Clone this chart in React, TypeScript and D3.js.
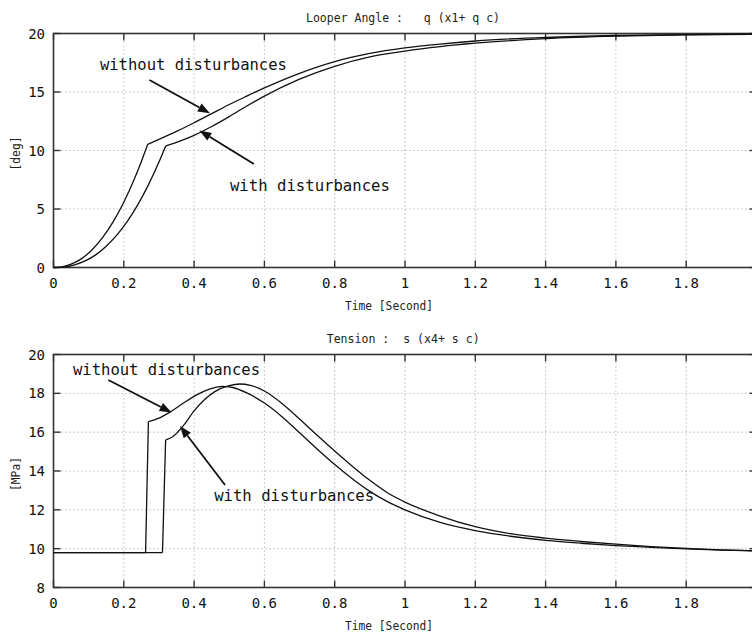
import React from 'react'
import * as d3 from 'd3'

// Looper angle [deg], without / with disturbances
const angleTimeNoDist = [0, 0.02, 0.05, 0.08, 0.11, 0.14, 0.17, 0.2, 0.23, 0.25, 0.268, 0.3, 0.35, 0.4, 0.45, 0.5, 0.55, 0.6, 0.7, 0.8, 0.9, 1.0, 1.1, 1.2, 1.4, 1.6, 1.8, 2.0]
const angleNoDist = [0, 0.04, 0.28, 0.76, 1.52, 2.57, 3.92, 5.58, 7.56, 9.06, 10.53, 10.95, 11.63, 12.37, 13.15, 13.93, 14.65, 15.35, 16.6, 17.6, 18.3, 18.77, 19.1, 19.36, 19.67, 19.83, 19.91, 19.955]
const angleTimeDist = [0, 0.03, 0.06, 0.09, 0.12, 0.15, 0.18, 0.21, 0.24, 0.27, 0.3, 0.319, 0.35, 0.4, 0.45, 0.5, 0.55, 0.6, 0.7, 0.8, 0.9, 1.0, 1.1, 1.2, 1.4, 1.6, 1.8, 2.0]
const angleDist = [0, 0.04, 0.22, 0.56, 1.08, 1.82, 2.77, 3.95, 5.38, 7.06, 9.01, 10.38, 10.7, 11.3, 12.05, 12.9, 13.8, 14.65, 16.1, 17.2, 18.0, 18.5, 18.88, 19.17, 19.56, 19.77, 19.88, 19.94]
const angleKinks = [0.268, 0.319]

// Tension [MPa]
const tensionTimeNoDist = [0, 0.262, 0.27, 0.3, 0.33, 0.37, 0.41, 0.45, 0.48, 0.51, 0.55, 0.6, 0.65, 0.7, 0.75, 0.8, 0.85, 0.9, 0.95, 1.0, 1.1, 1.2, 1.3, 1.4, 1.5, 1.6, 1.7, 1.8, 1.9, 2.0]
const tensionNoDist = [9.8, 9.8, 16.54, 16.72, 17.02, 17.5, 17.95, 18.25, 18.36, 18.3, 18.02, 17.5, 16.8, 15.97, 15.13, 14.33, 13.6, 12.95, 12.42, 12.0, 11.35, 10.93, 10.64, 10.43, 10.28, 10.16, 10.07, 9.99, 9.93, 9.88]
const tensionTimeDist = [0, 0.31, 0.319, 0.34, 0.37, 0.4, 0.43, 0.46, 0.5, 0.53, 0.56, 0.6, 0.65, 0.7, 0.75, 0.8, 0.85, 0.9, 0.95, 1.0, 1.1, 1.2, 1.3, 1.4, 1.5, 1.6, 1.7, 1.8, 1.9, 2.0]
const tensionDist = [9.8, 9.8, 15.6, 15.78, 16.35, 17.1, 17.68, 18.1, 18.4, 18.48, 18.41, 18.12, 17.48, 16.68, 15.84, 15.03, 14.25, 13.52, 12.88, 12.4, 11.68, 11.13, 10.77, 10.54, 10.37, 10.23, 10.11, 10.01, 9.94, 9.89]
const tensionKinks = [0.262, 0.27, 0.31, 0.319]

const xTicks = [0, 0.2, 0.4, 0.6, 0.8, 1, 1.2, 1.4, 1.6, 1.8, 2]
const angleTicks = [0, 5, 10, 15, 20]
const tensionTicks = [8, 10, 12, 14, 16, 18, 20]

const MONO = '"DejaVu Sans Mono", "Liberation Mono", monospace'

type Note = { text: string; at: [number, number]; len: number; from: [number, number]; to: [number, number] }

const angleNotes: Note[] = [
  { text: 'without disturbances', at: [0.132, 16.88], len: 187, from: [0.273, 16.03], to: [0.445, 13.18] },
  { text: 'with disturbances', at: [0.502, 6.54], len: 160, from: [0.57, 8.85], to: [0.415, 11.71] },
]
const tensionNotes: Note[] = [
  { text: 'without disturbances', at: [0.0555, 18.94], len: 187, from: [0.156, 18.69], to: [0.336, 17.01] },
  { text: 'with disturbances', at: [0.457, 12.45], len: 160, from: [0.488, 13.28], to: [0.36, 16.32] },
]

function segments(ts: number[], vs: number[], kinks: number[]) {
  const out: [number, number][][] = []
  let cur: [number, number][] = []
  ts.forEach((t, i) => {
    cur.push([t, vs[i]])
    if (kinks.includes(t) && cur.length > 1) {
      out.push(cur)
      cur = [[t, vs[i]]]
    }
  })
  if (cur.length > 1) out.push(cur)
  return out
}

const x = d3.scaleLinear().domain([0, 2]).range([53.5, 756.5])

function Panel(props: {
  top: number; bottom: number; domain: [number, number]; ticks: number[]
  title: string; titleX: number; titleLen: number; ylabel: string
  series: [number, number][][]; notes: Note[]
}) {
  const { top, bottom, domain, ticks, title, titleX, titleLen, ylabel, series, notes } = props
  const y = d3.scaleLinear().domain(domain).range([bottom, top])
  const line = d3.line<[number, number]>().x(d => x(d[0])).y(d => y(d[1])).curve(d3.curveMonotoneX)
  const [x0, x1] = x.range()
  const fmt = d3.format('~g')
  const arrowHead = (n: Note) => {
    const [ax, ay] = [x(n.from[0]), y(n.from[1])]
    const [bx, by] = [x(n.to[0]), y(n.to[1])]
    const a = Math.atan2(by - ay, bx - ax)
    const L = 12, W = 4.5
    const cx = bx - L * Math.cos(a), cy = by - L * Math.sin(a)
    const px = -Math.sin(a) * W, py = Math.cos(a) * W
    return { line: [ax, ay, cx, cy], pts: `${bx},${by} ${cx + px},${cy + py} ${cx - px},${cy - py}` }
  }
  return (
    <g>
      {/* grid */}
      {xTicks.slice(1, -1).map(t => (
        <line key={'gx' + t} x1={x(t)} x2={x(t)} y1={top} y2={bottom} stroke="#999" strokeDasharray="1,3" />
      ))}
      {ticks.slice(1, -1).map(t => (
        <line key={'gy' + t} x1={x0} x2={x1} y1={y(t)} y2={y(t)} stroke="#999" strokeDasharray="1,3" />
      ))}
      {/* frame and ticks */}
      <rect x={x0} y={top} width={x1 - x0} height={bottom - top} fill="none" stroke="#333" strokeWidth={1.6} />
      {xTicks.map(t => (
        <g key={'tx' + t}>
          <line x1={x(t)} x2={x(t)} y1={bottom} y2={bottom - 7} stroke="#333" strokeWidth={1.4} />
          <line x1={x(t)} x2={x(t)} y1={top} y2={top + 7} stroke="#333" strokeWidth={1.4} />
          {x(t) < 740 && (
            <text x={x(t)} y={bottom + 20.5} textAnchor="middle" fontFamily={MONO} fontSize={14} fill="#111">{fmt(t)}</text>
          )}
        </g>
      ))}
      {ticks.map(t => (
        <g key={'ty' + t}>
          <line x1={x0} x2={x0 + 7} y1={y(t)} y2={y(t)} stroke="#333" strokeWidth={1.4} />
          <line x1={x1} x2={x1 - 7} y1={y(t)} y2={y(t)} stroke="#333" strokeWidth={1.4} />
          <text x={45} y={y(t)} dy="0.36em" textAnchor="end" fontFamily={MONO} fontSize={14} fill="#111">{t}</text>
        </g>
      ))}
      {/* curves */}
      {series.map((seg, i) => (
        <path key={'s' + i} d={line(seg) || ''} fill="none" stroke="#111" strokeWidth={1.3} />
      ))}
      {/* annotations */}
      {notes.map((n, i) => {
        const h = arrowHead(n)
        return (
          <g key={'n' + i}>
            <text x={x(n.at[0])} y={y(n.at[1])} fontFamily={MONO} fontSize={16} textLength={n.len} lengthAdjust="spacingAndGlyphs" fill="#111">{n.text}</text>
            <line x1={h.line[0]} y1={h.line[1]} x2={h.line[2]} y2={h.line[3]} stroke="#111" strokeWidth={1.8} />
            <polygon points={h.pts} fill="#111" />
          </g>
        )
      })}
      {/* labels */}
      <text x={titleX} y={top - 11.5} fontFamily={MONO} fontSize={13} textLength={titleLen} lengthAdjust="spacingAndGlyphs" fill="#222" style={{ whiteSpace: 'pre' }}>{title}</text>
      <text x={389} y={bottom + 42.5} textAnchor="middle" fontFamily={MONO} fontSize={13} textLength={88} lengthAdjust="spacingAndGlyphs" fill="#222">Time [Second]</text>
      <text transform={`translate(20,${(top + bottom) / 2 + 3}) rotate(-90)`} textAnchor="middle" fontFamily={MONO} fontSize={12} textLength={34} lengthAdjust="spacingAndGlyphs" fill="#222">{ylabel}</text>
    </g>
  )
}

export default function App() {
  const angleSeries = [
    ...segments(angleTimeNoDist, angleNoDist, angleKinks),
    ...segments(angleTimeDist, angleDist, angleKinks),
  ]
  const tensionSeries = [
    ...segments(tensionTimeNoDist, tensionNoDist, tensionKinks),
    ...segments(tensionTimeDist, tensionDist, tensionKinks),
  ]
  return (
    <svg width={752} height={634} style={{ position: 'absolute', left: 0, top: 0, background: '#fff' }}>
      <rect width={752} height={634} fill="#fff" />
      <Panel top={33.5} bottom={267.5} domain={[0, 20]} ticks={angleTicks}
        title="Looper Angle :   q (x1+ q c)" titleX={306} titleLen={194} ylabel="[deg]"
        series={angleSeries} notes={angleNotes} />
      <Panel top={354.5} bottom={587.5} domain={[8, 20]} ticks={tensionTicks}
        title="Tension :  s (x4+ s c)" titleX={326.7} titleLen={153} ylabel="[MPa]"
        series={tensionSeries} notes={tensionNotes} />
    </svg>
  )
}
